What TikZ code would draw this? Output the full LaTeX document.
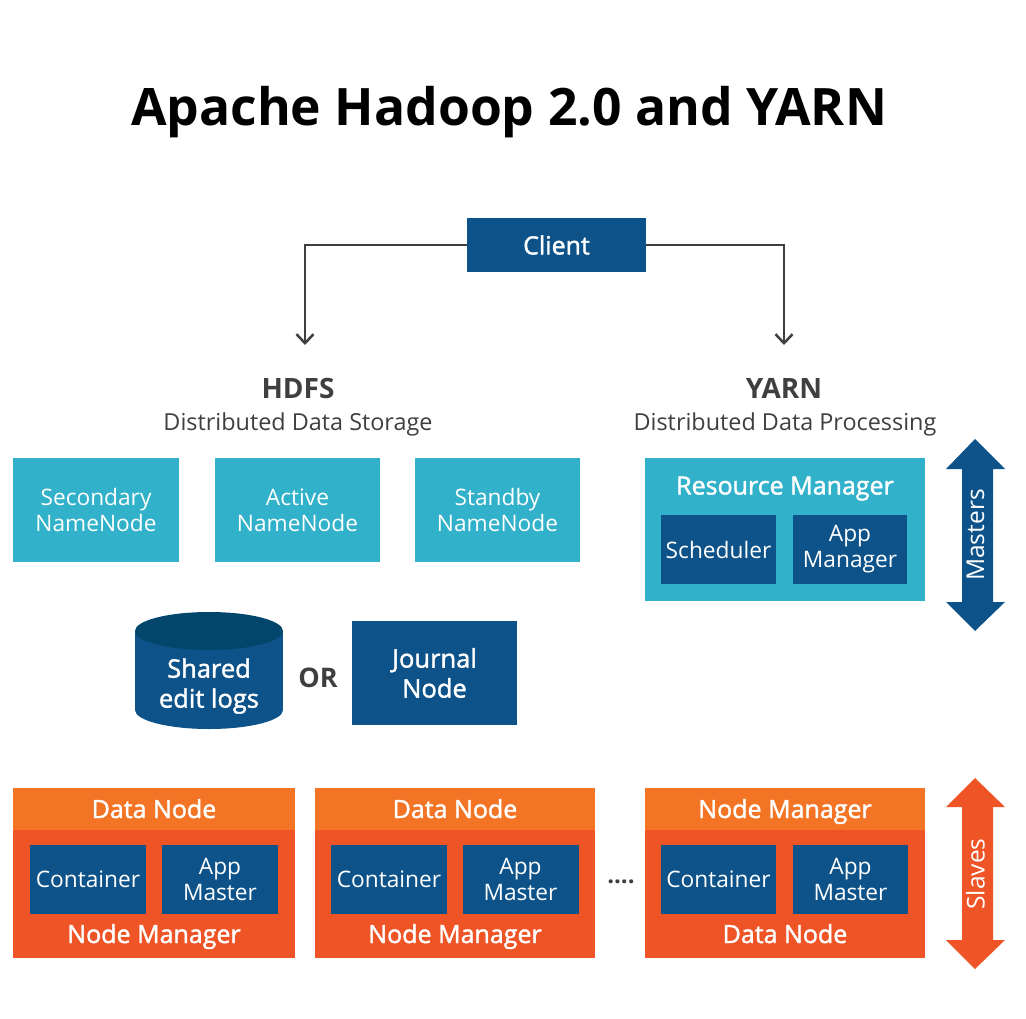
\documentclass[tikz,border=0pt]{standalone}
\usepackage{fontspec}
\setmainfont{Open Sans}
\newfontfamily\semib{Open Sans}[FakeBold=1.6]
\usetikzlibrary{arrows.meta}
\definecolor{dblue}{HTML}{0D5389}
\definecolor{lblue}{HTML}{31B1CA}
\definecolor{otop}{HTML}{F27424}
\definecolor{obody}{HTML}{EE5425}
\definecolor{cyltop}{HTML}{03466B}
\definecolor{dgray}{HTML}{3F3F3F}
\begin{document}
\begin{tikzpicture}[x=1pt,y=-1pt,
    box/.style={inner sep=0pt,align=center,text=white,font=\fontsize{22.7}{26}\selectfont},
    dbox/.style={box,fill=dblue},
    lbox/.style={box,fill=lblue},
    obox/.style={box,fill=obody,minimum width=#1,minimum height=170pt},
    oband/.style={box,fill=otop,minimum width=#1,minimum height=42pt,text height=18pt,text depth=0pt,font=\semib\fontsize{25}{28}\selectfont},
    wlbl/.style={text=white,inner sep=0pt,text height=18pt,text depth=0pt,font=\semib\fontsize{25}{28}\selectfont},
    head/.style={text=dgray,font=\bfseries\fontsize{28}{32}\selectfont},
    sub/.style={text=dgray,font=\fontsize{23.4}{27}\selectfont},
    conn/.style={draw=dgray,line width=2.5pt,-{Straight Barb[length=9pt,width=17pt,line width=2.5pt]}}]
        \useasboundingbox (0,0) rectangle (1026,1018);
        % title
        \node[font=\bfseries\fontsize{51.6}{56}\selectfont] (title) at (509,112) {Apache Hadoop 2.0 and YARN};
        % client
        \node[dbox,minimum width=179pt,minimum height=54pt,font=\semib\fontsize{25}{30}\selectfont] (client) at (556.5,245) {Client};
        \coordinate (hdfsin) at (305,345);
        \coordinate (yarnin) at (784,345);
        \draw[conn] (client.west) -| (hdfsin);
        \draw[conn] (client.east) -| (yarnin);
        \node[head] (hdfs) at (298,388) {HDFS};
        \node[sub] (hdfssub) at (298,424) {Distributed Data Storage};
        \node[head] (yarn) at (784,388) {YARN};
        \node[sub] (yarnsub) at (785,424) {Distributed Data Processing};
        % namenodes
        \node[lbox,minimum width=166pt,minimum height=104pt] (secnn) at (96,510) {Secondary\\NameNode};
        \node[lbox,minimum width=165pt,minimum height=104pt] (actnn) at (297.5,510) {Active\\NameNode};
        \node[lbox,minimum width=165pt,minimum height=104pt] (stbynn) at (497.5,510) {Standby\\NameNode};
        % shared edit logs
        \fill[dblue] (135,631) rectangle (283,710);
        \fill[dblue] (209,710) ellipse [x radius=74, y radius=19];
        \fill[cyltop] (209,631) ellipse [x radius=74, y radius=19];
        \node[text=white,align=center,font=\semib\fontsize{25.5}{30}\selectfont] (edits) at (209,686) {Shared\\edit logs};
        \node[head,font=\bfseries\fontsize{27}{32}\selectfont] (or) at (318,678) {OR};
        \node[dbox,minimum width=165pt,minimum height=104pt,font=\semib\fontsize{25.5}{30}\selectfont] (journal) at (434.5,673) {Journal\\Node};
        % resource manager
        \node[lbox,minimum width=280pt,minimum height=143pt] (rm) at (785,529.5) {};
        \node[wlbl] (rmlbl) at (785,485.5) {Resource Manager};
        \node[dbox,minimum width=115pt,minimum height=69pt] (sched) at (718.5,549.5) {Scheduler};
        \node[dbox,minimum width=114pt,minimum height=69pt] (appmgr) at (850,549.5) {App\\Manager};
        % masters
        \fill[dblue] (975,439) -- (1005,469) -- (993,469) -- (993,602) -- (1005,602) -- (975,631)
            -- (946,602) -- (962,602) -- (962,469) -- (946,469) -- cycle;
        \node[text=white,rotate=90,font=\fontsize{24.5}{28}\selectfont] (masters) at (975.5,535) {Masters};
        % slaves
        \node[obox=282pt] (dn1) at (154,873) {};
        \node[oband=282pt] (dn1top) at (154,809) {Data Node};
        \node[dbox,minimum width=116pt,minimum height=69pt] (cont1) at (88,879.5) {Container};
        \node[dbox,minimum width=116pt,minimum height=69pt] (am1) at (220,879.5) {App\\Master};
        \node[wlbl] (nm1) at (154,934) {Node Manager};

        \node[obox=280pt] (dn2) at (455,873) {};
        \node[oband=280pt] (dn2top) at (455,809) {Data Node};
        \node[dbox,minimum width=116pt,minimum height=69pt] (cont2) at (389,879.5) {Container};
        \node[dbox,minimum width=116pt,minimum height=69pt] (am2) at (520.5,879.5) {App\\Master};
        \node[wlbl] (nm2) at (455,934) {Node Manager};

        \node[text=dgray,font=\bfseries\fontsize{24}{28}\selectfont] (dots) at (621,882) {....};

        \node[obox=280pt] (nm3) at (785,873) {};
        \node[oband=280pt] (nm3top) at (785,809) {Node Manager};
        \node[dbox,minimum width=115pt,minimum height=69pt] (cont3) at (718.5,879.5) {Container};
        \node[dbox,minimum width=115pt,minimum height=69pt] (am3) at (850.5,879.5) {App\\Master};
        \node[wlbl] (dn3) at (785,934) {Data Node};

        \fill[obody] (975,778) -- (1005,807) -- (993,807) -- (993,940) -- (1005,940) -- (975,969)
            -- (946,940) -- (962,940) -- (962,807) -- (946,807) -- cycle;
        \node[text=white,rotate=90,font=\fontsize{24.5}{28}\selectfont] (slaves) at (975.5,874) {Slaves};
    \end{tikzpicture}
\end{document}
